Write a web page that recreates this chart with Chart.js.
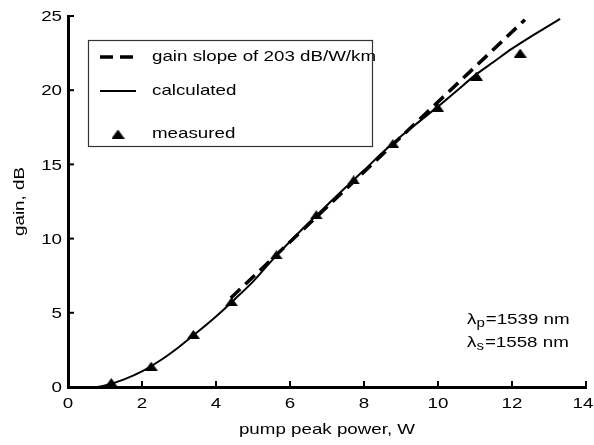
<!DOCTYPE html>
<html>
<head>
<meta charset="utf-8">
<script src="https://cdn.jsdelivr.net/npm/chart.js"></script>
<style>
  html, body { margin: 0; padding: 0; background: #fff; }
  #wrap { width: 594px; height: 445px; }
</style>
</head>
<body>
<div id="wrap"><canvas id="chart" width="594" height="445"></canvas></div>
<script>
const FONT = "'Liberation Sans', Arial, Helvetica, sans-serif";
const STRETCH = 1.25; // the original figure's lettering is wide

// measured gain (triangles)
const measuredPower = [1.17, 2.25, 3.39, 4.42, 5.63, 6.71, 7.72, 8.78, 9.99, 11.04, 12.22];
const measuredGain = [0.3, 1.4, 3.55, 5.75, 8.9, 11.6, 13.95, 16.4, 18.85, 20.95, 22.5];

// calculated curve
const calcPower = [0.8, 1.0, 1.5, 2.0, 2.5, 3.0, 3.5, 4.0, 4.5, 5.0, 5.5, 6.0, 6.5, 7.0, 7.5, 8.0, 8.5, 9.0, 9.5, 10.0, 10.5, 11.0, 11.5, 12.0, 12.5, 13.0, 13.3];
const calcGain = [0, 0.1, 0.5, 1.05, 1.8, 2.7, 3.7, 4.75, 5.9, 7.1, 8.5, 9.8, 11.05, 12.25, 13.45, 14.6, 15.8, 16.9, 17.9, 18.9, 19.95, 21.0, 21.9, 22.8, 23.6, 24.35, 24.8];

// gain slope line
const slopePower = [4.4, 12.35];
const slopeGain = [6.0, 24.75];

const xTicks = [0, 2, 4, 6, 8, 10, 12, 14];
const yTicks = [0, 5, 10, 15, 20, 25];
const xTitle = "pump peak power, W";
const yTitle = "gain, dB";
const noteLines = [["p", "=1539 nm"], ["s", "=1558 nm"]];

const zip = (xs, ys) => xs.map((x, i) => ({ x: x, y: ys[i] }));

// wide triangle marker
const tri = document.createElement("canvas");
tri.width = 13; tri.height = 9;
(c => {
  c.fillStyle = "#000";
  c.beginPath(); c.moveTo(6.5, 0); c.lineTo(13, 9); c.lineTo(0, 9); c.closePath(); c.fill();
})(tri.getContext("2d"));

function wideText(ctx, str, x, y, align, rotate) {
  ctx.save();
  ctx.translate(x, y);
  if (rotate) ctx.rotate(-Math.PI / 2);
  ctx.scale(STRETCH, 1);
  ctx.textAlign = align;
  ctx.fillText(str, 0, 0);
  ctx.restore();
}

const extras = {
  id: "extras",
  afterDraw(chart) {
    const ctx = chart.ctx;
    const xs = chart.scales.x, ys = chart.scales.y;
    ctx.save();
    ctx.strokeStyle = "#000";
    ctx.lineWidth = 2;
    // inward ticks
    xTicks.forEach(v => {
      const px = xs.getPixelForValue(v);
      ctx.beginPath(); ctx.moveTo(px, ys.bottom); ctx.lineTo(px, ys.bottom - 6); ctx.stroke();
    });
    yTicks.forEach(v => {
      const py = ys.getPixelForValue(v);
      ctx.beginPath(); ctx.moveTo(xs.left, py); ctx.lineTo(xs.left + 6, py); ctx.stroke();
    });

    ctx.fillStyle = "#000";
    ctx.font = "15px " + FONT;
    ctx.textBaseline = "middle";
    xTicks.forEach(v => {
      const px = Math.min(xs.getPixelForValue(v), 583);
      wideText(ctx, String(v), px, 404, "center");
    });
    yTicks.forEach(v => wideText(ctx, String(v), 62, ys.getPixelForValue(v) + 1, "right"));

    ctx.textBaseline = "alphabetic";
    wideText(ctx, xTitle, (xs.left + xs.right) / 2, 434, "center");
    wideText(ctx, yTitle, 24, (ys.top + ys.bottom) / 2, "center", true);

    // legend box
    ctx.lineWidth = 1.2;
    ctx.strokeStyle = "#333";
    ctx.strokeRect(88.5, 40.5, 284, 106);
    const rows = [57, 91, 134];
    const ds = chart.data.datasets;
    ctx.textBaseline = "middle";
    ds.forEach((d, i) => {
      const y = rows[i];
      if (d.showLine === false) {
        ctx.drawImage(tri, 118 - tri.width / 2, y - tri.height / 2);
      } else {
        ctx.strokeStyle = "#000";
        ctx.lineWidth = d.borderWidth;
        ctx.setLineDash(d.borderDash || []);
        ctx.beginPath(); ctx.moveTo(100, y); ctx.lineTo(136, y); ctx.stroke();
        ctx.setLineDash([]);
      }
      wideText(ctx, d.label, 152, y, "left");
    });

    // wavelength note
    [320, 343].forEach((y, i) => {
      const [sub, rest] = noteLines[i];
      let x = 467;
      ctx.font = "15px " + FONT;
      wideText(ctx, "\u03bb", x, y, "left");
      x += ctx.measureText("\u03bb").width * STRETCH;
      ctx.font = "12px " + FONT;
      wideText(ctx, sub, x, y + 4, "left");
      x += ctx.measureText(sub).width * STRETCH + 1;
      ctx.font = "15px " + FONT;
      wideText(ctx, rest, x, y, "left");
    });
    ctx.restore();
  }
};

new Chart(document.getElementById("chart"), {
  type: "scatter",
  data: {
    datasets: [
      {
        label: "gain slope of 203 dB/W/km",
        data: zip(slopePower, slopeGain),
        showLine: true,
        borderColor: "#000",
        borderWidth: 3.5,
        borderDash: [13, 7],
        pointRadius: 0
      },
      {
        label: "calculated",
        data: zip(calcPower, calcGain),
        showLine: true,
        borderColor: "#000",
        borderWidth: 2,
        cubicInterpolationMode: "monotone",
        pointRadius: 0
      },
      {
        label: "measured",
        data: zip(measuredPower, measuredGain),
        showLine: false,
        pointStyle: tri,
        pointRadius: 6
      }
    ]
  },
  options: {
    responsive: false,
    animation: false,
    layout: { padding: { top: 16, right: 8, left: 0, bottom: 0 } },
    plugins: { legend: { display: false }, tooltip: { enabled: false } },
    scales: {
      x: {
        type: "linear",
        min: 0, max: 14,
        afterBuildTicks: s => { s.ticks = xTicks.map(v => ({ value: v })); },
        afterFit: s => { s.height = 58; },
        grid: { display: true, drawOnChartArea: false, drawTicks: false },
        border: { display: true, color: "#000", width: 3 },
        ticks: { display: false }
      },
      y: {
        type: "linear",
        min: 0, max: 25,
        afterBuildTicks: s => { s.ticks = yTicks.map(v => ({ value: v })); },
        afterFit: s => { s.width = 68; },
        grid: { display: true, drawOnChartArea: false, drawTicks: false },
        border: { display: true, color: "#000", width: 3 },
        ticks: { display: false }
      }
    }
  },
  plugins: [extras]
});
</script>
</body>
</html>
